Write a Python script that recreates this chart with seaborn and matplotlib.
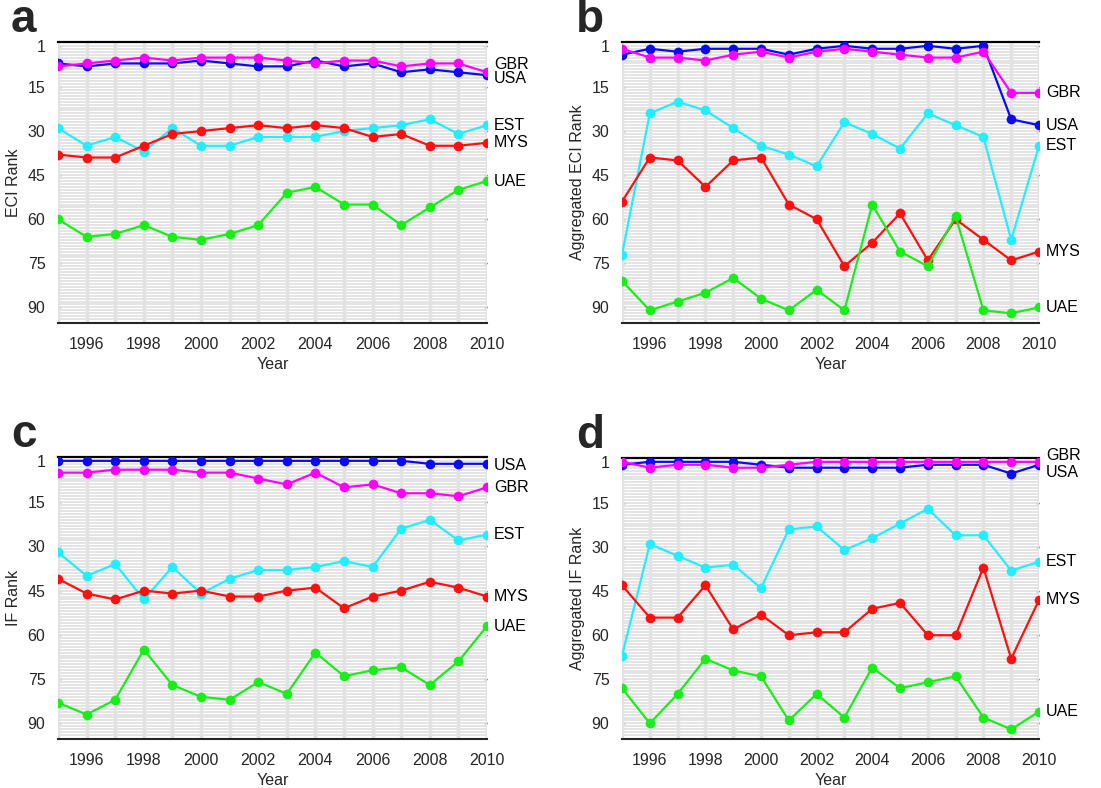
import pandas as pd
import seaborn as sns
import matplotlib.pyplot as plt

years = list(range(1995, 2011))
countries = ["USA", "GBR", "EST", "MYS", "UAE"]
colors = {"USA": "#0a0af5", "GBR": "#ff00ff", "EST": "#22eeff", "MYS": "#ff1010", "UAE": "#18ee18"}

# panel a: ECI rank
eci_usa = [7, 8, 7, 7, 7, 6, 7, 8, 8, 6, 8, 7, 10, 9, 10, 11]
eci_gbr = [8, 7, 6, 5, 6, 5, 5, 5, 6, 7, 6, 6, 8, 7, 7, 10]
eci_est = [29, 35, 32, 37, 29, 35, 35, 32, 32, 32, 30, 29, 28, 26, 31, 28]
eci_mys = [38, 39, 39, 35, 31, 30, 29, 28, 29, 28, 29, 32, 31, 35, 35, 34]
eci_uae = [60, 66, 65, 62, 66, 67, 65, 62, 51, 49, 55, 55, 62, 56, 50, 47]

# panel b: aggregated ECI rank
aeci_usa = [4, 2, 3, 2, 2, 2, 4, 2, 1, 2, 2, 1, 2, 1, 26, 28]
aeci_gbr = [2, 5, 5, 6, 4, 3, 5, 3, 2, 3, 4, 5, 5, 3, 17, 17]
aeci_est = [72, 24, 20, 23, 29, 35, 38, 42, 27, 31, 36, 24, 28, 32, 67, 35]
aeci_mys = [54, 39, 40, 49, 40, 39, 55, 60, 76, 68, 58, 74, 60, 67, 74, 71]
aeci_uae = [81, 91, 88, 85, 80, 87, 91, 84, 91, 55, 71, 76, 59, 91, 92, 90]

# panel c: IF rank
if_usa = [1, 1, 1, 1, 1, 1, 1, 1, 1, 1, 1, 1, 1, 2, 2, 2]
if_gbr = [5, 5, 4, 4, 4, 5, 5, 7, 9, 5, 10, 9, 12, 12, 13, 10]
if_est = [32, 40, 36, 48, 37, 46, 41, 38, 38, 37, 35, 37, 24, 21, 28, 26]
if_mys = [41, 46, 48, 45, 46, 45, 47, 47, 45, 44, 51, 47, 45, 42, 44, 47]
if_uae = [83, 87, 82, 65, 77, 81, 82, 76, 80, 66, 74, 72, 71, 77, 69, 57]

# panel d: aggregated IF rank
aif_usa = [2, 1, 1, 1, 1, 2, 3, 3, 3, 3, 3, 2, 2, 2, 5, 2]
aif_gbr = [1, 3, 2, 2, 3, 3, 2, 1, 1, 1, 1, 1, 1, 1, 1, 1]
aif_est = [67, 29, 33, 37, 36, 44, 24, 23, 31, 27, 22, 17, 26, 26, 38, 35]
aif_mys = [43, 54, 54, 43, 58, 53, 60, 59, 59, 51, 49, 60, 60, 37, 68, 48]
aif_uae = [78, 90, 80, 68, 72, 74, 89, 80, 88, 71, 78, 76, 74, 88, 92, 86]

panels = [
    ("a", "ECI Rank", {"USA": eci_usa, "GBR": eci_gbr, "EST": eci_est, "MYS": eci_mys, "UAE": eci_uae}),
    ("b", "Aggregated ECI Rank", {"USA": aeci_usa, "GBR": aeci_gbr, "EST": aeci_est, "MYS": aeci_mys, "UAE": aeci_uae}),
    ("c", "IF Rank", {"USA": if_usa, "GBR": if_gbr, "EST": if_est, "MYS": if_mys, "UAE": if_uae}),
    ("d", "Aggregated IF Rank", {"USA": aif_usa, "GBR": aif_gbr, "EST": aif_est, "MYS": aif_mys, "UAE": aif_uae}),
]

# small vertical nudges of the end labels so they do not collide
label_nudge = {
    "a": {"GBR": -2.8, "USA": 1.0},
    "c": {"USA": 0.5},
    "d": {"GBR": -2.0, "USA": 2.6},
}

rank_levels = list(range(1, 95))
yticks = [1, 15, 30, 45, 60, 75, 90]

sns.set_style("white")
plt.rcParams["font.family"] = ["Liberation Sans", "DejaVu Sans"]

fig = plt.figure(figsize=(11.01, 7.88), dpi=100)
W, H = 1101, 788
boxes = [(58, 487, 42, 323), (622, 1039, 42, 323), (58, 487, 457, 739), (622, 1039, 458, 739)]

for (letter, ylabel, series), (x0, x1, y0, y1) in zip(panels, boxes):
    ax = fig.add_axes([x0 / W, 1 - y1 / H, (x1 - x0) / W, (y1 - y0) / H])
    df = pd.DataFrame([(c, yr, r) for c in countries for yr, r in zip(years, series[c])],
                      columns=["Country", "Year", "Rank"])

    # light grey mesh of all the other countries' rank levels
    ax.hlines(rank_levels, years[0], years[-1], color="#e2e2e2", lw=1.3, zorder=1)
    ax.vlines(years, 0, 95, color="#e2e2e2", lw=2.5, zorder=1)

    for c in countries:
        sub = df[df["Country"] == c]
        sns.lineplot(data=sub, x="Year", y="Rank", color=colors[c], marker="o",
                     markersize=7, markeredgewidth=0, lw=1.6, ax=ax, legend=False, zorder=3)
        last = sub["Rank"].iloc[-1] + label_nudge.get(letter, {}).get(c, 0)
        ax.annotate(c, (years[-1], last), xytext=(5, 0), textcoords="offset points",
                    va="center", ha="left", fontsize=11.5, color="black", annotation_clip=False)

    ax.set_xlim(1995, 2010)
    ax.set_ylim(95.3, -0.3)
    ax.set_yticks(yticks)
    ax.set_xticks(years)
    ax.set_xticklabels([str(y) if y % 2 == 0 else "" for y in years])
    ax.tick_params(axis="x", direction="out", length=3, width=1, colors="#262626",
                   labelsize=11.5, pad=7)
    ax.tick_params(axis="y", left=True, right=True, direction="in", length=2, width=1,
                   colors="#262626", labelsize=11.5, pad=9)
    for s in ["left", "right"]:
        ax.spines[s].set_visible(False)
    ax.spines["top"].set_color("black")
    ax.spines["top"].set_linewidth(1.6)
    ax.spines["bottom"].set_color("#262626")
    ax.spines["bottom"].set_linewidth(1.5)
    ax.set_xlabel("Year", fontsize=11.5, color="#262626", labelpad=4)
    ax.set_ylabel(ylabel, fontsize=11.5, color="#262626", labelpad=5)
    ax.text(-0.11, 1.0, letter, transform=ax.transAxes, fontsize=33, fontweight="bold",
            va="bottom", ha="left")

fig.savefig("out.png", dpi=100)
